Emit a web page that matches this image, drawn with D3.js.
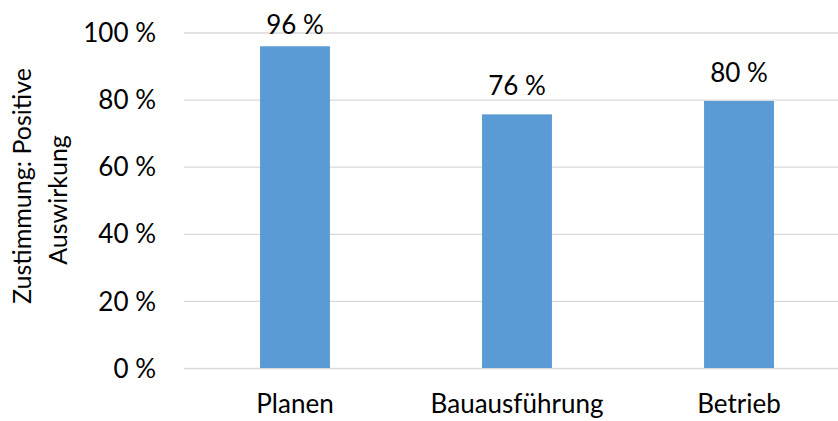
<!DOCTYPE html>
<html><head><meta charset="utf-8">
<script src="https://cdn.jsdelivr.net/npm/d3@7"></script>
<style>
html,body{margin:0;padding:0;background:#fff;}
svg text{font-family:Lato, "Open Sans", sans-serif;fill:#000;}
</style></head>
<body><svg id="chart" width="838" height="421"></svg>
<script>
const categories = ["Planen", "Bauausführung", "Betrieb"];
const values = [95.9, 75.6, 79.6];
const yTicks = [0, 20, 40, 60, 80, 100];
const yTitleLines = ["Zustimmung: Positive", "Auswirkung"];

(function () {
const svg = d3.select("#chart");
const mLeft = 184, mRight = 850, mTop = 32.5, mBottom = 368;
const fs = 26;

const x = d3.scaleBand().domain(categories).range([mLeft, mRight]).paddingInner(0.685).paddingOuter(0.3425);
const y = d3.scaleLinear().domain([0, 100]).range([mBottom, mTop]);

// gridlines
const grid = svg.append("g").attr("transform", `translate(${mLeft},0)`)
  .call(d3.axisLeft(y).tickValues(yTicks).tickSize(-(mRight - mLeft)).tickFormat(""));
grid.select(".domain").remove();
grid.selectAll("line").attr("stroke", "#d9d9d9").attr("stroke-width", 1.3);

// y labels
const ya = svg.append("g").attr("transform", `translate(${mLeft},0)`)
  .call(d3.axisLeft(y).tickValues(yTicks).tickSize(0).tickPadding(28).tickFormat(d => d + " %"));
ya.select(".domain").remove();
ya.selectAll("text").attr("font-size", fs).attr("font-family", null).attr("dy", "0.35em");

// bars
svg.append("g").selectAll("rect").data(categories).join("rect")
  .attr("x", d => x(d)).attr("width", x.bandwidth())
  .attr("y", (d, i) => y(values[i])).attr("height", (d, i) => y(0) - y(values[i]))
  .attr("fill", "#5b9bd5");

// value labels
svg.append("g").selectAll("text").data(categories).join("text")
  .attr("x", d => x(d) + x.bandwidth() / 2)
  .attr("y", (d, i) => Math.max(y(values[i]) - 19, mTop + 1.5))
  .attr("text-anchor", "middle").attr("font-size", fs)
  .text((d, i) => d3.format(".0f")(values[i]) + " %");

// x axis labels
const xa = svg.append("g").attr("transform", `translate(0,${mBottom})`)
  .call(d3.axisBottom(x).tickSize(0));
xa.select(".domain").remove();
xa.selectAll("text").attr("y", 45).attr("dy", null).attr("font-size", fs).attr("font-family", null);

// y title
svg.append("text").attr("transform", "translate(31,186) rotate(-90)")
  .attr("text-anchor", "middle").attr("font-size", 25).text(yTitleLines[0]);
svg.append("text").attr("transform", "translate(67,200) rotate(-90)")
  .attr("text-anchor", "middle").attr("font-size", 25).text(yTitleLines[1]);
})();
</script></body></html>
